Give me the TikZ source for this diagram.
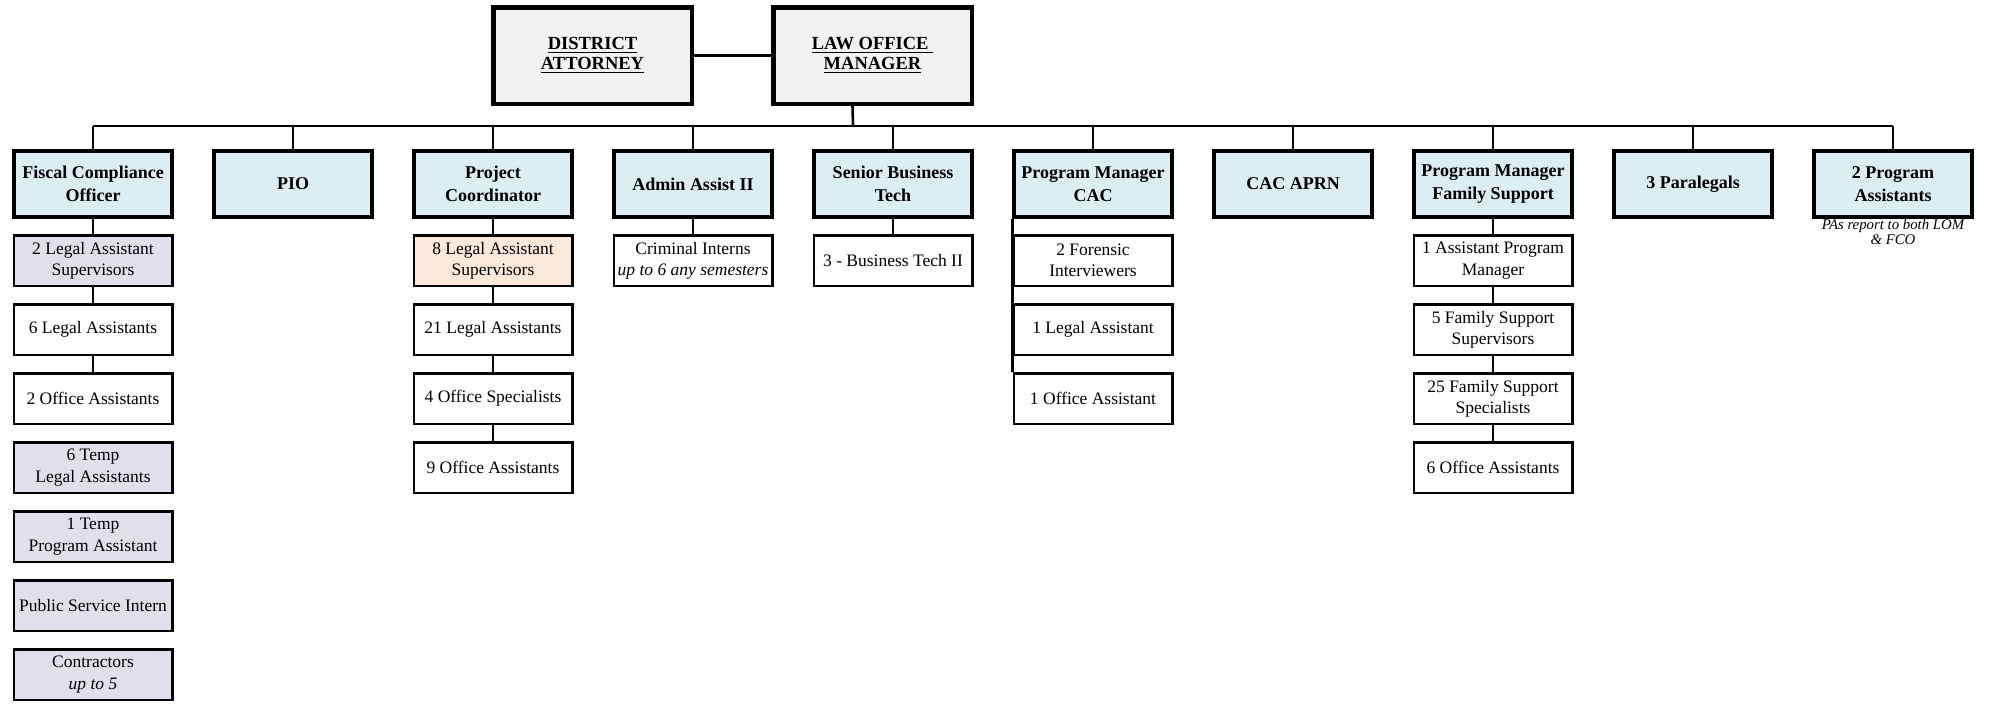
\documentclass[tikz,border=0pt]{standalone}
\usepackage{fontspec}
\setmainfont{Liberation Serif}
\definecolor{headblue}{RGB}{219,238,243}
\definecolor{topgray}{RGB}{242,242,242}
\definecolor{lavender}{RGB}{226,223,236}
\definecolor{peach}{RGB}{253,233,217}
\begin{document}
\begin{tikzpicture}[x=0.5pt, y=-0.5pt, line width=1.3pt]
	\tikzset{
	    topbox/.style= {draw, line width=2.25pt, fill=topgray, minimum width=99.25pt, minimum height=48.25pt, inner sep=0pt, align=center, font=\fontsize{9.25}{10}\selectfont\bfseries},
	    headbox/.style= {draw, line width=2.15pt, fill=headblue, minimum width=78.85pt, minimum height=32.85pt, inner sep=0pt, align=center, font=\fontsize{9}{11.5}\selectfont\bfseries},
	    staffbox/.style= {draw, line width=1.25pt, fill=white, minimum width=79.25pt, minimum height=25.25pt, inner sep=0pt, align=center, font=\fontsize{8.75}{10.6}\selectfont},
	    tempbox/.style= {staffbox, fill=lavender},
	    supbox/.style= {staffbox, fill=peach},
	    pnote/.style= {inner sep=0pt, align=center, font=\fontsize{7.4}{7.8}\selectfont\itshape},
	}
	\useasboundingbox (0, 0) rectangle (1990, 703);
	
	\node[topbox] (da) at (592.5, 55.5) {\underline{DISTRICT}\\\underline{ATTORNEY}};
	\node[topbox] (lom) at (872.5, 55.5) {\underline{LAW OFFICE\ }\\\underline{MANAGER}};
	\coordinate (drop) at (853, 126);
	
	\node[pnote] (panote) at (1893, 232) {PAs report to both LOM\\\& FCO};
	
	\node[headbox] (fco) at (93, 184) {Fiscal Compliance\\Officer};
	\node[headbox] (pio) at (293, 184) {PIO};
	\node[headbox] (pc) at (493, 184) {Project\\Coordinator};
	\node[headbox] (aa) at (693, 184) {Admin Assist II};
	\node[headbox] (sbt) at (893, 184) {Senior Business\\Tech};
	\node[headbox] (pmcac) at (1093, 184) {Program Manager\\CAC};
	\node[headbox] (aprn) at (1293, 184) {CAC APRN};
	\node[headbox] (pmfs) at (1493, 184) {Program Manager\\Family Support};
	\node[headbox] (para) at (1693, 184) {3 Paralegals};
	\node[headbox] (pa) at (1893, 184) {2 Program\\Assistants};
	
	\node[tempbox] (fco1) at (93, 260.5) {2 Legal Assistant\\Supervisors};
	\node[staffbox] (fco2) at (93, 329.5) {6 Legal Assistants};
	\node[staffbox] (fco3) at (93, 398.5) {2 Office Assistants};
	\node[tempbox] (fco4) at (93, 467.5) {6 Temp\\Legal Assistants};
	\node[tempbox] (fco5) at (93, 536.5) {1 Temp\\Program Assistant};
	\node[tempbox] (fco6) at (93, 605.5) {Public Service Intern};
	\node[tempbox] (fco7) at (93, 674.5) {Contractors\\\textit{up to 5}};
	
	\node[supbox] (pc1) at (493, 260.5) {8 Legal Assistant\\Supervisors};
	\node[staffbox] (pc2) at (493, 329.5) {21 Legal Assistants};
	\node[staffbox] (pc3) at (493, 398.5) {4 Office Specialists};
	\node[staffbox] (pc4) at (493, 467.5) {9 Office Assistants};
	
	\node[staffbox] (aa1) at (693, 260.5) {Criminal Interns\\\textit{up to 6 any semesters}};
	\node[staffbox] (sbt1) at (893, 260.5) {3 - Business Tech II};
	
	\node[staffbox] (cac1) at (1093, 260.5) {2 Forensic\\Interviewers};
	\node[staffbox] (cac2) at (1093, 329.5) {1 Legal Assistant};
	\node[staffbox] (cac3) at (1093, 398.5) {1 Office Assistant};
	
	\node[staffbox] (fs1) at (1493, 260.5) {1 Assistant Program\\Manager};
	\node[staffbox] (fs2) at (1493, 329.5) {5 Family Support\\Supervisors};
	\node[staffbox] (fs3) at (1493, 398.5) {25 Family Support\\Specialists};
	\node[staffbox] (fs4) at (1493, 467.5) {6 Office Assistants};
	
	\draw (da) -- (lom);
	\draw ([xshift=-10pt]lom.south) -- (drop);
	\draw (fco |- drop) -- (pa |- drop);
	
	\draw
	(fco) edge (fco |- drop)
	(pio) edge (pio |- drop)
	(pc) edge (pc |- drop)
	(aa) edge (aa |- drop)
	(sbt) edge (sbt |- drop)
	(pmcac) edge (pmcac |- drop)
	(aprn) edge (aprn |- drop)
	(pmfs) edge (pmfs |- drop)
	(para) edge (para |- drop)
	(pa) edge (pa |- drop);
	
	\draw
	(fco) edge (fco1)
	(fco1) edge (fco2)
	(fco2) edge (fco3)
	(pc) edge (pc1)
	(pc1) edge (pc2)
	(pc2) edge (pc3)
	(pc3) edge (pc4)
	(aa) edge (aa1)
	(sbt) edge (sbt1)
	(pmfs) edge (fs1)
	(fs1) edge (fs2)
	(fs2) edge (fs3)
	(fs3) edge (fs4);
	
	\draw (cac3.north west) -- (cac3.north west |- pmcac.south);
\end{tikzpicture}
\end{document}
